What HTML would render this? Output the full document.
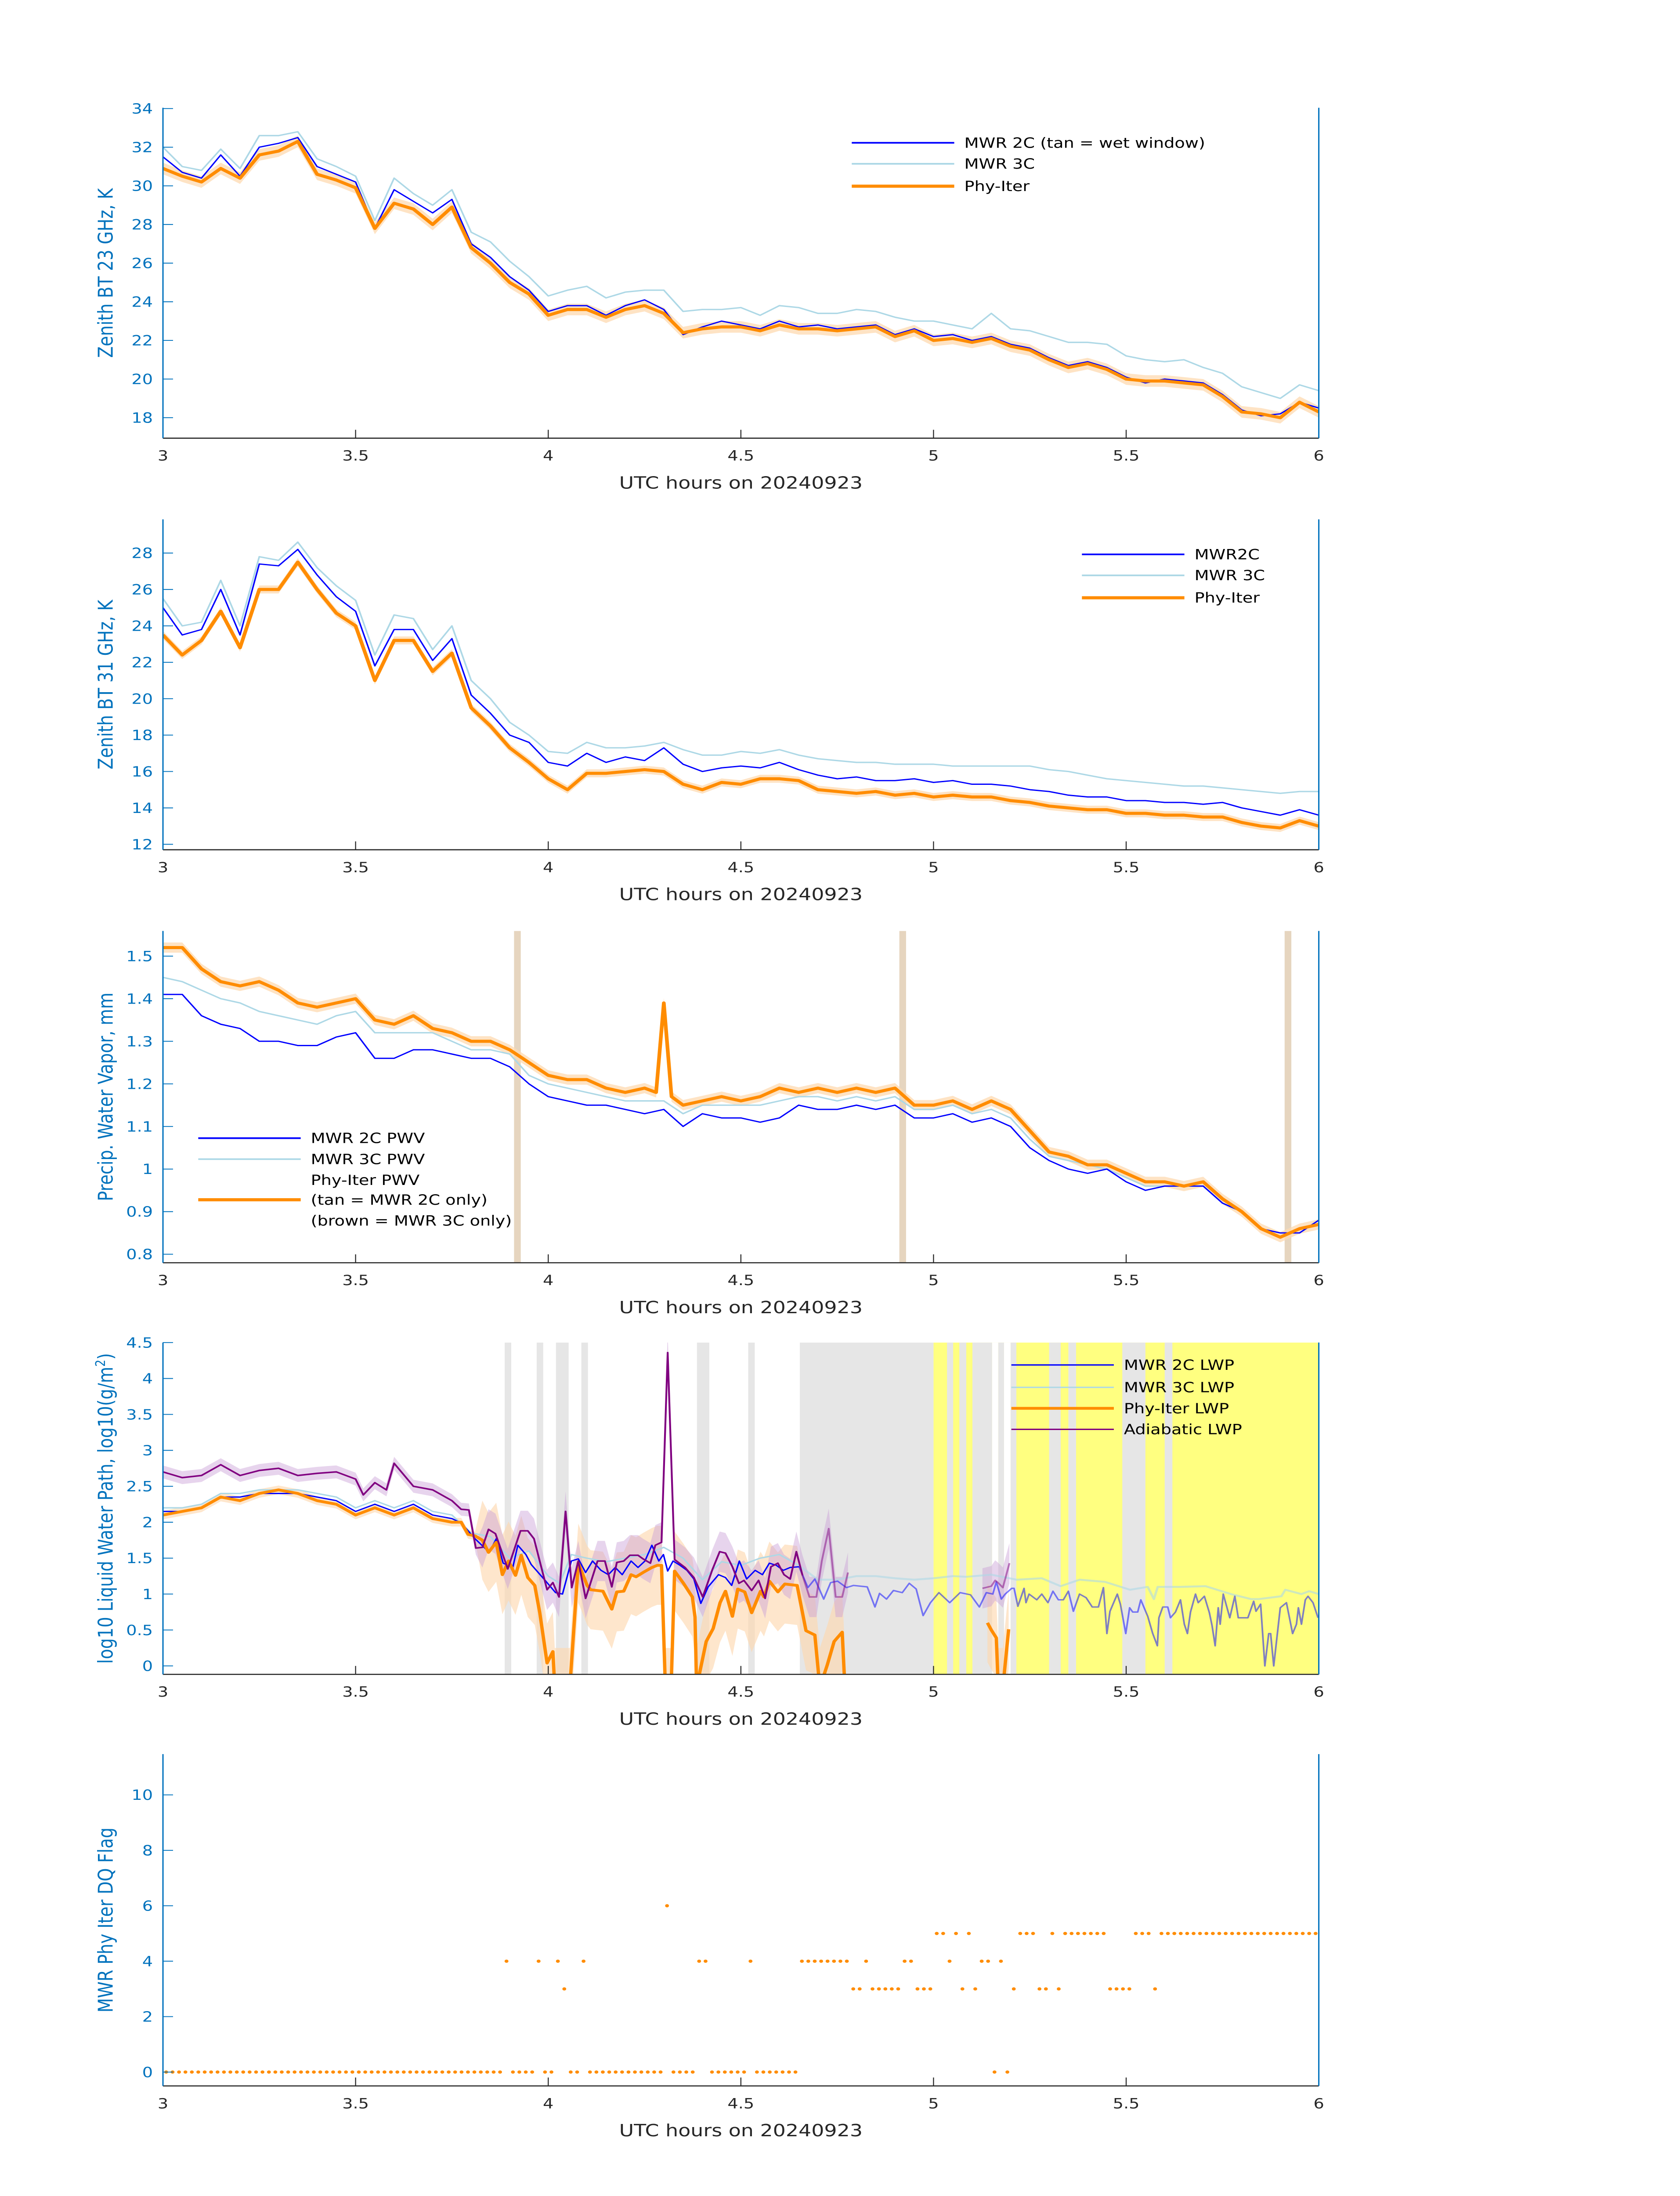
<!DOCTYPE html>
<html><head><meta charset="utf-8"><title>MWR chart</title>
<style>html,body{margin:0;padding:0;background:#fff;width:100%;height:100%;overflow:hidden}svg{display:block;position:absolute;left:0;top:0;width:100vw;height:100vh}text{font-family:"DejaVu Sans","Liberation Sans",sans-serif}</style>
</head><body>
<svg id="fig" xmlns="http://www.w3.org/2000/svg" viewBox="0 0 1000 1568.63" preserveAspectRatio="none"></svg>
<script>
// ---------- DATA ----------
const T61 = [3.00,3.05,3.10,3.15,3.20,3.25,3.30,3.35,3.40,3.45,3.50,3.55,3.60,3.65,3.70,3.75,3.80,3.85,3.90,3.95,4.00,4.05,4.10,4.15,4.20,4.25,4.30,4.35,4.40,4.45,4.50,4.55,4.60,4.65,4.70,4.75,4.80,4.85,4.90,4.95,5.00,5.05,5.10,5.15,5.20,5.25,5.30,5.35,5.40,5.45,5.50,5.55,5.60,5.65,5.70,5.75,5.80,5.85,5.90,5.95,6.00];
// Panel 1: 23 GHz
const BT23_PHY = [30.9,30.5,30.2,30.9,30.4,31.6,31.8,32.3,30.6,30.3,29.9,27.8,29.1,28.8,28.0,28.9,26.8,26.0,25.0,24.4,23.3,23.6,23.6,23.2,23.6,23.8,23.4,22.4,22.6,22.7,22.7,22.5,22.8,22.6,22.6,22.5,22.6,22.7,22.2,22.5,22.0,22.1,21.9,22.1,21.7,21.5,21.0,20.6,20.8,20.5,20.0,19.9,19.9,19.8,19.7,19.1,18.3,18.2,18.0,18.8,18.3];
const BT23_2C = [31.5,30.7,30.4,31.6,30.5,32.0,32.2,32.5,31.0,30.6,30.2,27.8,29.8,29.2,28.6,29.3,27.0,26.3,25.3,24.6,23.5,23.8,23.8,23.3,23.8,24.1,23.6,22.3,22.7,23.0,22.8,22.6,23.0,22.7,22.8,22.6,22.7,22.8,22.3,22.6,22.2,22.3,22.0,22.2,21.8,21.6,21.1,20.7,20.9,20.6,20.1,19.8,20.0,19.9,19.8,19.2,18.4,18.1,18.2,18.8,18.5];
const BT23_3C = [32.0,31.0,30.8,31.9,30.9,32.6,32.6,32.8,31.4,31.0,30.5,28.2,30.4,29.6,29.0,29.8,27.6,27.1,26.1,25.3,24.3,24.6,24.8,24.2,24.5,24.6,24.6,23.5,23.6,23.6,23.7,23.3,23.8,23.7,23.4,23.4,23.6,23.5,23.2,23.0,23.0,22.8,22.6,23.4,22.6,22.5,22.2,21.9,21.9,21.8,21.2,21.0,20.9,21.0,20.6,20.3,19.6,19.3,19.0,19.7,19.4];
// Panel 2: 31 GHz
const BT31_PHY = [23.5,22.4,23.2,24.8,22.8,26.0,26.0,27.5,26.0,24.7,24.0,21.0,23.2,23.2,21.5,22.5,19.5,18.5,17.3,16.5,15.6,15.0,15.9,15.9,16.0,16.1,16.0,15.3,15.0,15.4,15.3,15.6,15.6,15.5,15.0,14.9,14.8,14.9,14.7,14.8,14.6,14.7,14.6,14.6,14.4,14.3,14.1,14.0,13.9,13.9,13.7,13.7,13.6,13.6,13.5,13.5,13.2,13.0,12.9,13.3,13.0];
const BT31_2C = [25.0,23.5,23.8,26.0,23.5,27.4,27.3,28.2,26.8,25.6,24.8,21.8,23.8,23.8,22.1,23.3,20.2,19.2,18.0,17.6,16.5,16.3,17.0,16.5,16.8,16.6,17.3,16.4,16.0,16.2,16.3,16.2,16.5,16.1,15.8,15.6,15.7,15.5,15.5,15.6,15.4,15.5,15.3,15.3,15.2,15.0,14.9,14.7,14.6,14.6,14.4,14.4,14.3,14.3,14.2,14.3,14.0,13.8,13.6,13.9,13.6];
const BT31_3C = [25.5,24.0,24.2,26.5,24.0,27.8,27.6,28.6,27.2,26.2,25.4,22.4,24.6,24.4,22.7,24.0,21.0,20.0,18.7,18.0,17.1,17.0,17.6,17.3,17.3,17.4,17.6,17.2,16.9,16.9,17.1,17.0,17.2,16.9,16.7,16.6,16.5,16.5,16.4,16.4,16.4,16.3,16.3,16.3,16.3,16.3,16.1,16.0,15.8,15.6,15.5,15.4,15.3,15.2,15.2,15.1,15.0,14.9,14.8,14.9,14.9];
// Panel 3: PWV
const PWV_2C = [1.41,1.41,1.36,1.34,1.33,1.30,1.30,1.29,1.29,1.31,1.32,1.26,1.26,1.28,1.28,1.27,1.26,1.26,1.24,1.20,1.17,1.16,1.15,1.15,1.14,1.13,1.14,1.10,1.13,1.12,1.12,1.11,1.12,1.15,1.14,1.14,1.15,1.14,1.15,1.12,1.12,1.13,1.11,1.12,1.10,1.05,1.02,1.00,0.99,1.00,0.97,0.95,0.96,0.96,0.96,0.92,0.90,0.86,0.85,0.85,0.88];
const PWV_3C = [1.45,1.44,1.42,1.40,1.39,1.37,1.36,1.35,1.34,1.36,1.37,1.32,1.32,1.32,1.32,1.30,1.28,1.28,1.27,1.22,1.20,1.19,1.18,1.17,1.16,1.16,1.16,1.13,1.15,1.15,1.15,1.15,1.16,1.17,1.17,1.16,1.17,1.16,1.17,1.14,1.14,1.15,1.13,1.14,1.12,1.07,1.03,1.02,1.01,1.00,0.98,0.96,0.96,0.96,0.96,0.92,0.90,0.86,0.84,0.86,0.87];
const PWV_PHY_T = [3.00,3.05,3.10,3.15,3.20,3.25,3.30,3.35,3.40,3.45,3.50,3.55,3.60,3.65,3.70,3.75,3.80,3.85,3.90,3.95,4.00,4.05,4.10,4.15,4.20,4.25,4.28,4.30,4.32,4.35,4.40,4.45,4.50,4.55,4.60,4.65,4.70,4.75,4.80,4.85,4.90,4.95,5.00,5.05,5.10,5.15,5.20,5.25,5.30,5.35,5.40,5.45,5.50,5.55,5.60,5.65,5.70,5.75,5.80,5.85,5.90,5.95,6.00];
const PWV_PHY = [1.52,1.52,1.47,1.44,1.43,1.44,1.42,1.39,1.38,1.39,1.40,1.35,1.34,1.36,1.33,1.32,1.30,1.30,1.28,1.25,1.22,1.21,1.21,1.19,1.18,1.19,1.18,1.39,1.17,1.15,1.16,1.17,1.16,1.17,1.19,1.18,1.19,1.18,1.19,1.18,1.19,1.15,1.15,1.16,1.14,1.16,1.14,1.09,1.04,1.03,1.01,1.01,0.99,0.97,0.97,0.96,0.97,0.93,0.90,0.86,0.84,0.86,0.87];
const PWV_TAN_BANDS = [3.92,4.92,5.92];
// Panel 4: LWP
const LWP2C_T = [3.00,3.05,3.10,3.15,3.20,3.25,3.30,3.35,3.40,3.45,3.50,3.55,3.60,3.65,3.70,3.75,3.774,3.81,3.847,3.865,3.883,3.908,3.921,3.942,3.956,3.974,3.992,4.019,4.037,4.06,4.078,4.097,4.115,4.137,4.156,4.174,4.192,4.215,4.233,4.251,4.269,4.287,4.299,4.31,4.324,4.342,4.36,4.378,4.396,4.415,4.442,4.46,4.476,4.496,4.515,4.537,4.556,4.574,4.592,4.61,4.628,4.651];
const LWP2C = [2.15,2.15,2.2,2.35,2.35,2.4,2.4,2.4,2.35,2.3,2.15,2.25,2.15,2.25,2.1,2.05,1.99,1.77,1.58,1.77,1.43,1.37,1.68,1.55,1.41,1.30,1.19,1.02,1.00,1.46,1.49,1.30,1.46,1.33,1.27,1.37,1.27,1.46,1.37,1.46,1.68,1.46,1.55,1.32,1.46,1.40,1.33,1.21,0.87,1.10,1.27,1.23,1.12,1.46,1.21,1.33,1.27,1.43,1.40,1.33,1.37,1.38];
const LWP2C_LATE_T = [4.651,4.674,4.692,4.715,4.733,4.751,4.774,4.792,4.828,4.848,4.86,4.878,4.896,4.919,4.937,4.955,4.973,4.992,5.014,5.042,5.069,5.096,5.119,5.137,5.154,5.163,5.176,5.186,5.203,5.209,5.219,5.235,5.24,5.248,5.268,5.281,5.297,5.31,5.324,5.337,5.35,5.363,5.379,5.396,5.412,5.428,5.441,5.45,5.458,5.477,5.485,5.499,5.509,5.517,5.53,5.538,5.556,5.569,5.581,5.585,5.595,5.608,5.615,5.628,5.641,5.651,5.659,5.667,5.68,5.687,5.703,5.716,5.723,5.731,5.739,5.744,5.752,5.769,5.782,5.791,5.804,5.816,5.831,5.837,5.849,5.86,5.87,5.875,5.883,5.9,5.916,5.932,5.942,5.947,5.955,5.965,5.972,5.985,5.998];
const LWP2C_LATE = [1.38,1.09,1.21,0.93,1.16,1.18,1.09,1.12,1.10,0.82,1.01,0.93,1.05,1.02,1.15,1.07,0.70,0.88,1.02,0.88,1.02,0.99,0.82,1.02,1.00,1.17,0.93,1.00,1.08,1.08,0.83,1.08,0.88,1.00,0.92,1.00,0.88,1.04,0.92,0.92,1.04,0.76,1.00,0.95,0.82,0.82,1.09,0.45,0.76,1.00,0.86,0.45,0.81,0.75,0.75,0.92,0.69,0.45,0.28,0.67,0.82,0.82,0.67,0.75,0.92,0.58,0.45,0.75,1.00,0.88,0.97,0.74,0.56,0.28,0.81,0.58,1.00,0.67,0.97,0.67,0.67,0.67,0.90,0.76,0.86,0.00,0.45,0.45,0.00,0.81,0.88,0.45,0.58,0.81,0.58,0.92,0.97,0.88,0.67];
const LWP3C_T = [3.00,3.05,3.10,3.15,3.20,3.25,3.30,3.35,3.40,3.45,3.50,3.55,3.60,3.65,3.70,3.75,3.8,3.85,3.9,3.95,4.0,4.03,4.06,4.1,4.15,4.2,4.25,4.3,4.35,4.4,4.45,4.5,4.55,4.6,4.65,4.7,4.75,4.8,4.85,4.9,4.95,5.0,5.05,5.085,5.15,5.216,5.281,5.33,5.379,5.445,5.51,5.556,5.572,5.582,5.641,5.706,5.772,5.824,5.844,5.903,5.913,5.955,5.975,6.0];
const LWP3C = [2.2,2.2,2.25,2.4,2.4,2.45,2.45,2.45,2.4,2.35,2.2,2.3,2.2,2.3,2.15,2.1,1.85,1.8,1.5,1.6,1.25,1.15,1.55,1.5,1.45,1.5,1.55,1.65,1.5,1.2,1.45,1.4,1.5,1.55,1.4,1.2,1.2,1.25,1.25,1.22,1.2,1.22,1.25,1.24,1.27,1.20,1.22,1.11,1.20,1.17,1.06,1.10,0.93,1.10,1.10,1.11,1.00,0.93,0.93,0.97,1.06,1.00,1.04,1.00];
const LWPPHY_T = [3.00,3.05,3.10,3.15,3.20,3.25,3.30,3.35,3.40,3.45,3.50,3.55,3.60,3.65,3.70,3.75,3.774,3.792,3.81,3.829,3.845,3.865,3.881,3.897,3.915,3.93,3.947,3.965,3.978,3.997,4.012,4.017,4.056,4.078,4.101,4.11,4.142,4.165,4.178,4.196,4.215,4.228,4.246,4.269,4.283,4.294,4.304,4.319,4.328,4.351,4.374,4.381,4.385,4.41,4.428,4.446,4.46,4.478,4.492,4.51,4.528,4.551,4.56,4.574,4.596,4.614,4.646,4.669,4.692,4.705,4.724,4.742,4.763,4.77,5.13,5.14,5.15,5.163,5.168,5.18,5.195];
const LWPPHY = [2.1,2.15,2.2,2.35,2.3,2.4,2.45,2.4,2.3,2.25,2.1,2.2,2.1,2.2,2.05,2.0,2.0,1.83,1.81,1.75,1.58,1.72,1.27,1.46,1.26,1.54,1.23,1.12,0.74,0.04,0.20,-0.3,-0.3,1.43,1.12,1.06,1.04,0.79,1.03,1.04,1.27,1.24,1.30,1.37,1.40,1.40,-0.3,-0.3,1.32,1.15,0.96,0.68,-0.3,0.34,0.52,0.88,1.04,0.69,1.07,1.03,0.74,1.04,0.96,1.18,1.03,1.14,1.12,0.49,0.43,-0.3,0.01,0.34,0.47,-0.3,null,0.6,0.5,0.39,-0.3,-0.3,0.51];
const LWPADI_T = [3.00,3.05,3.10,3.15,3.20,3.25,3.30,3.35,3.40,3.45,3.50,3.52,3.55,3.58,3.60,3.65,3.70,3.75,3.774,3.794,3.812,3.829,3.845,3.863,3.895,3.928,3.947,3.963,3.997,4.012,4.028,4.045,4.061,4.078,4.097,4.128,4.147,4.165,4.178,4.196,4.212,4.233,4.246,4.265,4.278,4.294,4.31,4.328,4.355,4.378,4.401,4.426,4.445,4.46,4.478,4.495,4.508,4.528,4.546,4.563,4.578,4.596,4.612,4.628,4.644,4.66,4.678,4.696,4.71,4.728,4.746,4.763,4.778,5.12,5.127,5.15,5.16,5.167,5.18,5.197];
const LWPADI = [2.7,2.62,2.65,2.8,2.65,2.72,2.75,2.65,2.68,2.7,2.6,2.38,2.55,2.45,2.82,2.5,2.45,2.3,2.18,2.17,1.64,1.65,1.90,1.84,1.35,1.88,1.88,1.77,1.06,1.16,0.96,2.15,1.09,1.46,0.94,1.46,1.46,1.10,1.44,1.46,1.54,1.54,1.49,1.43,1.68,1.72,4.36,1.48,1.37,1.23,0.96,1.34,1.59,1.57,1.38,1.15,1.19,1.05,1.19,0.94,1.38,1.43,1.27,1.21,1.59,1.26,0.96,0.96,1.46,1.91,0.96,0.96,1.30,null,1.08,1.11,1.19,1.16,1.09,1.43];
const GRAY_START = [3.887,3.970,4.020,4.086,4.386,4.519,4.653,5.035,5.067,5.101,5.168,5.200,5.300,5.350,5.490,5.600];
const GRAY_END   = [3.904,3.987,4.053,4.103,4.418,4.536,5.000,5.051,5.085,5.152,5.183,5.215,5.330,5.370,5.550,5.620];
const WHITE_START = [5.152,5.183];
const WHITE_END   = [5.168,5.200];
const YELLOW_RANGE = [5.0,6.0];
// Panel 5: DQ flag per minute from 3:00
const DQ_FLAG = [0,0,0,0,0,0,0,0,0,0, 0,0,0,0,0,0,0,0,0,0, 0,0,0,0,0,0,0,0,0,0, 0,0,0,0,0,0,0,0,0,0, 0,0,0,0,0,0,0,0,0,0,
 0,0,0,4,0,0,0,0,4,0, 0,4,3,0,0,4,0,0,0,0, 0,0,0,0,0,0,0,0,6,0, 0,0,0,4,4,0,0,0,0,0, 0,4,0,0,0,0,0,0,0,4,
 4,4,4,4,4,4,4,3,3,4, 3,3,3,3,3,4,4,3,3,3, 5,5,4,5,3,5,3,4,4,0, 4,0,3,5,5,5,3,3,5,3, 5,5,5,5,5,5,5,3,3,3,
 3,5,5,5,3,5,5,5,5,5, 5,5,5,5,5,5,5,5,5,5, 5,5,5,5,5,5,5,5,5,5, 5];
const X_TICKS = [3,3.5,4,4.5,5,5.5,6];
const X_TICK_LABELS = ['3','3.5','4','4.5','5','5.5','6'];

// ---------- DRAWING ----------
const NS='http://www.w3.org/2000/svg';
const svg=document.getElementById('fig');
function mk(tag,attrs,parent){const e=document.createElementNS(NS,tag);for(const k in attrs)e.setAttribute(k,attrs[k]);(parent||svg).appendChild(e);return e;}
const L=97,R=785;
const AXC='#0072BD', XC='#262626';
function panel(id,top,bottom,ymin,ymax){
  const g=mk('g',{});
  
  
  const cp=mk('clipPath',{id:'clip-'+id},g);
  mk('rect',{x:L,y:top,width:R-L,height:bottom-top},cp);
  const plot=mk('g',{'clip-path':'url(#clip-'+id+')'},g);
  
  
  return {g,plot,top,bottom,sx:t=>L+(t-3)/3*(R-L),sy:v=>bottom-(v-ymin)/(ymax-ymin)*(bottom-top)};
}
function pathD(P,T,V,tmin,tmax){
  let d='',pen=false;
  for(let i=0;i<Math.min(T.length,V.length);i++){
    if(T[i]<tmin-1e-9||T[i]>tmax+1e-9){pen=false;continue;}
    if(V[i]===null){pen=false;continue;}
    d+=(pen?'L':'M')+P.sx(T[i]).toFixed(2)+','+P.sy(V[i]).toFixed(2);pen=true;
  }
  return d;
}
function line(P,T,V,color,w,name,op,tmin,tmax){
  const e=mk('path',{d:pathD(P,T,V,tmin??-1,tmax??99),fill:'none',stroke:color,'stroke-width':w,'stroke-linejoin':'round','stroke-opacity':op??1},P.plot);
  
  
  return e;
}
function band(P,T,V,wf,color,op,name){
  let segs=[],cur=[];
  for(let i=0;i<Math.min(T.length,V.length);i++){if(V[i]===null){if(cur.length)segs.push(cur);cur=[];}else cur.push(i);}
  if(cur.length)segs.push(cur);
  segs.forEach(s=>{
    let up=s.map(i=>P.sx(T[i]).toFixed(2)+','+P.sy(V[i]+wf(T[i])).toFixed(2));
    let lo=s.slice().reverse().map(i=>P.sx(T[i]).toFixed(2)+','+P.sy(V[i]-wf(T[i])).toFixed(2));
    const e=mk('polygon',{points:up.concat(lo).join(' '),fill:color,'fill-opacity':op},P.plot);
    
    
  });
}
function axes(P,id,yt,ytl,ylabel,ysup){
  const g=P.g;
  X_TICKS.forEach((t,i)=>{
    const x=P.sx(t);
    const tk=mk('line',{x1:x,x2:x,y1:P.bottom,y2:P.bottom-6,stroke:XC,'stroke-width':0.6},g);
    
    
    const tx=mk('text',{x:x,y:P.bottom+16,'text-anchor':'middle','font-size':10,fill:XC},g);
    tx.textContent=X_TICK_LABELS[i];
    
    
  });
  yt.forEach((v,i)=>{
    const y=P.sy(v);
    const tk=mk('line',{x1:L,x2:L+6,y1:y,y2:y,stroke:AXC,'stroke-width':0.6},g);
    
    
    const tx=mk('text',{x:L-6,y:y+3.6,'text-anchor':'end','font-size':10,fill:AXC},g);
    tx.textContent=ytl[i];
    
    
  });
  const xa=mk('line',{x1:L,x2:R,y1:P.bottom,y2:P.bottom,stroke:XC,'stroke-width':0.8},g);
  
  
  const ya=mk('line',{x1:L,x2:L,y1:P.top,y2:P.bottom,stroke:AXC,'stroke-width':0.8},g);
  
  
  const ra=mk('line',{x1:R,x2:R,y1:P.top,y2:P.bottom,stroke:AXC,'stroke-width':0.8},g);
  
  
  const xl=mk('text',{x:441,y:P.bottom+36,'text-anchor':'middle','font-size':12,fill:XC},g);
  xl.textContent='UTC hours on 20240923';
  
  
  const cy=(P.top+P.bottom)/2;
  const yl=mk('text',{x:67,y:cy,'text-anchor':'middle','font-size':12,fill:AXC,transform:'rotate(-90 67 '+cy+')'},g);
  
  
  if(ysup){
    yl.appendChild(document.createTextNode(ylabel));
    const s=mk('tspan',{'baseline-shift':'super','font-size':8},yl);s.textContent='2';
    yl.appendChild(document.createTextNode(')'));
  } else yl.textContent=ylabel;
}
function legend(P,x,rows){
  rows.forEach(r=>{
    if(r.color){
      const l=mk('line',{x1:x,x2:x+61,y1:r.y,y2:r.y,stroke:r.color,'stroke-width':r.w},P.g);
      
      
    }
    const t=mk('text',{x:x+67,y:r.y+3.5,'font-size':10,fill:'#000'},P.g);
    t.textContent=r.text;
    
    
  });
}
const range=(a,b,s)=>{const o=[];for(let v=a;v<=b+1e-9;v+=s)o.push(+v.toFixed(2));return o;};

// Panel 1
const P1=panel('bt23',77,313,16.94,34.04);
band(P1,T61,BT23_PHY,t=>0.3,'#fdd9b0',0.75,'phy-iter-uncertainty');
line(P1,T61,BT23_3C,'#add8e6',1,'mwr-3c-line');
line(P1,T61,BT23_2C,'#0000ff',0.9,'mwr-2c-line');
line(P1,T61,BT23_PHY,'#ff8c00',2.2,'phy-iter-line');
{const yt=range(18,34,2);axes(P1,'bt23',yt,yt.map(String),'Zenith BT 23 GHz, K');}
legend(P1,507,[{y:102,color:'#0000ff',w:1.2,text:'MWR 2C (tan = wet window)'},{y:117,color:'#add8e6',w:1.2,text:'MWR 3C'},{y:133,color:'#ff8c00',w:2.2,text:'Phy-Iter'}]);

// Panel 2
const P2=panel('bt31',371,607,11.7,29.85);
band(P2,T61,BT31_PHY,t=>0.22,'#fdd9b0',0.75,'phy-iter-uncertainty');
line(P2,T61,BT31_3C,'#add8e6',1,'mwr-3c-line');
line(P2,T61,BT31_2C,'#0000ff',0.9,'mwr-2c-line');
line(P2,T61,BT31_PHY,'#ff8c00',2.2,'phy-iter-line');
{const yt=range(12,28,2);axes(P2,'bt31',yt,yt.map(String),'Zenith BT 31 GHz, K');}
legend(P2,644,[{y:396,color:'#0000ff',w:1.2,text:'MWR2C'},{y:411,color:'#add8e6',w:1.2,text:'MWR 3C'},{y:427,color:'#ff8c00',w:2.2,text:'Phy-Iter'}]);

// Panel 3
const P3=panel('pwv',665,902,0.78,1.559);
PWV_TAN_BANDS.forEach(t=>{
  const r=mk('rect',{x:P3.sx(t)-2,y:P3.top,width:4,height:P3.bottom-P3.top,fill:'#e6d5bf'},P3.plot);
  
  
});
band(P3,PWV_PHY_T,PWV_PHY,t=>0.012,'#fdd9b0',0.75,'phy-iter-uncertainty');
line(P3,T61,PWV_3C,'#add8e6',1,'mwr-3c-pwv-line');
line(P3,T61,PWV_2C,'#0000ff',0.9,'mwr-2c-pwv-line');
line(P3,PWV_PHY_T,PWV_PHY,'#ff8c00',2.2,'phy-iter-pwv-line');
{const yt=range(0.8,1.5,0.1);axes(P3,'pwv',yt,yt.map(v=>v===1?'1':String(v)),'Precip. Water Vapor, mm');}
legend(P3,118,[{y:813,color:'#0000ff',w:1.2,text:'MWR 2C PWV'},{y:828,color:'#add8e6',w:1.2,text:'MWR 3C PWV'},{y:843,text:'Phy-Iter PWV'},{y:857,color:'#ff8c00',w:2.2,text:'(tan = MWR 2C only)'},{y:872,text:'(brown = MWR 3C only)'}]);

// Panel 4
const P4=panel('lwp',959,1196,-0.117,4.5);
{const y=mk('rect',{x:P4.sx(YELLOW_RANGE[0]),y:P4.top,width:P4.sx(YELLOW_RANGE[1])-P4.sx(YELLOW_RANGE[0]),height:P4.bottom-P4.top,fill:'#ffff80'},P4.plot);
 
 }
GRAY_START.forEach((s,i)=>{
  const r=mk('rect',{x:P4.sx(s),y:P4.top,width:P4.sx(GRAY_END[i])-P4.sx(s),height:P4.bottom-P4.top,fill:'#e6e6e6'},P4.plot);
  
  
});
WHITE_START.forEach((s,i)=>{
  const r=mk('rect',{x:P4.sx(s),y:P4.top,width:P4.sx(WHITE_END[i])-P4.sx(s),height:P4.bottom-P4.top,fill:'#ffffff'},P4.plot);
  
  
});
band(P4,LWPPHY_T,LWPPHY,t=>t<3.82?0.06:0.55,'#fdd9b0',0.65,'phy-iter-lwp-uncertainty');
band(P4,LWPADI_T,LWPADI,t=>t<3.82?0.09:0.28,'#c9a0d8',0.45,'adiabatic-lwp-uncertainty');
line(P4,LWP3C_T,LWP3C,'#add8e6',1,'mwr-3c-lwp-line',1,0,4.65);
line(P4,LWP3C_T,LWP3C,'#add8e6',1.4,'mwr-3c-lwp-line-faded',0.6,4.65,9);
line(P4,LWP2C_T,LWP2C,'#0000ff',0.9,'mwr-2c-lwp-line');
line(P4,LWP2C_LATE_T,LWP2C_LATE,'#0000ff',1,'mwr-2c-lwp-line-faded',0.5);
line(P4,LWPPHY_T,LWPPHY,'#ff8c00',2,'phy-iter-lwp-line');
line(P4,LWPADI_T,LWPADI,'#800080',1.1,'adiabatic-lwp-line',1,0,4.665);
line(P4,LWPADI_T,LWPADI,'#800080',1.1,'adiabatic-lwp-line-faded',0.5,4.66,9);
{const yt=range(0,4.5,0.5);axes(P4,'lwp',yt,yt.map(String),'log10 Liquid Water Path, log10(g/m',true);}
legend(P4,602,[{y:975,color:'#0000ff',w:1,text:'MWR 2C LWP'},{y:991,color:'#add8e6',w:1,text:'MWR 3C LWP'},{y:1006,color:'#ff8c00',w:2,text:'Phy-Iter LWP'},{y:1021,color:'#800080',w:1,text:'Adiabatic LWP'}]);

// Panel 5
const P5=panel('dq',1253,1490,-0.5,11.47);
DQ_FLAG.forEach((f,i)=>{
  if(f===null)return;
  const c=mk('circle',{cx:P5.sx(3+(i+0.5)/60),cy:P5.sy(f),r:1.15,fill:'#ff8c00'},P5.plot);
  
  
});
{const yt=range(0,10,2);axes(P5,'dq',yt,yt.map(String),'MWR Phy Iter DQ Flag');}
</script>
</body></html>
